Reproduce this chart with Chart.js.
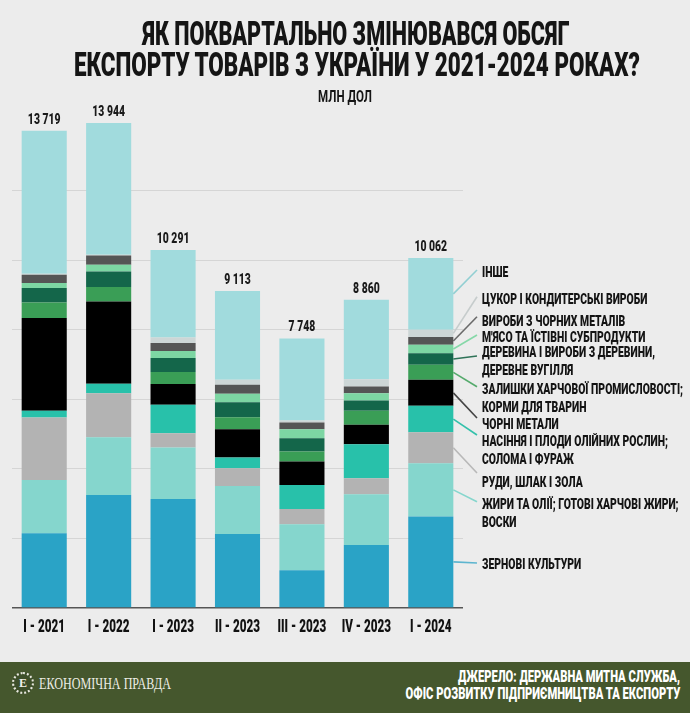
<!DOCTYPE html>
<html lang="uk">
<head>
<meta charset="utf-8">
<script src="https://cdn.jsdelivr.net/npm/chart.js@4.4.1/dist/chart.umd.min.js"></script>
<style>
  html, body { margin:0; padding:0; }
  body { width:690px; height:713px; background:#ececec; position:relative; overflow:hidden; font-family: Roboto, "DejaVu Sans", sans-serif; }
  #c { position:absolute; left:0; top:0; }
  .fit { position:absolute; white-space:nowrap; line-height:1; font-weight:900; color:#151515; }
  #footer { position:absolute; left:0; top:662px; width:690px; height:51px; background:#45572d; }
  .logo-circle { position:absolute; left:12px; top:672px; width:18px; height:18px; border:2px dotted #e6e6dc; border-radius:50%; background:#3d4f29; color:#f0f0e8; font:700 12px "Liberation Serif", serif; text-align:center; line-height:18px; }
</style>
</head>
<body>
<canvas id="c" width="690" height="713"></canvas>

<div class="fit" data-cx="356" data-w="427" style="top:17.2px;font-size:33px;">ЯК ПОКВАРТАЛЬНО ЗМІНЮВАВСЯ ОБСЯГ</div>
<div class="fit" data-cx="357" data-w="566" style="top:48.2px;font-size:33px;">ЕКСПОРТУ ТОВАРІВ З УКРАЇНИ У 2021-2024 РОКАХ?</div>
<div class="fit" data-cx="345" data-w="54" style="top:89.4px;font-size:16.5px;font-weight:700;">МЛН ДОЛ</div>

<div id="footer"></div>
<div class="logo-circle">Е</div>
<div class="fit" data-cx="105" data-w="132" style="top:675.5px;font-size:16.5px;font-family:'Liberation Serif',serif;font-weight:400;color:#ecece4;">ЕКОНОМІЧНА ПРАВДА</div>
<div class="fit" data-cx="569" data-w="222" style="top:667.7px;font-size:17px;color:#ffffff;">ДЖЕРЕЛО: ДЕРЖАВНА МИТНА СЛУЖБА,</div>
<div class="fit" data-cx="542.5" data-w="275" style="top:684.7px;font-size:17px;color:#ffffff;">ОФІС РОЗВИТКУ ПІДПРИЄМНИЦТВА ТА ЕКСПОРТУ</div>

<script>
// ---------- DATA ----------
const categories = ['I - 2021', 'I - 2022', 'I - 2023', 'II - 2023', 'III - 2023', 'IV - 2023', 'I - 2024'];
const totals = [13719, 13944, 10291, 9113, 7748, 8860, 10062];

const grain        = [2150, 3251, 3136, 2129, 1085, 1812, 2627];
const fats         = [1533, 1660, 1476, 1381, 1323, 1459, 1536];
const ores         = [1793, 1266,  414,  509,  440,  460,  886];
const oilseeds     = [ 192,  267,  814,  305,  691,  978,  762];
const ferrous      = [2667, 2368,  596,  817,  670,  556,  748];
const foodResidues = [ 449,  414,  345,  345,  288,  408,  432];
const wood         = [ 414,  449,  403,  426,  385,  291,  336];
const meat         = [ 144,  193,  204,  245,  259,  213,  239];
const ironProducts = [ 239,  267,  233,  258,  190,  190,  222];
const sugar        = [  30,   20,  155,  144,   57,  212,  210];
const other        = [4108, 3789, 2515, 2554, 2360, 2281, 2064];

const seriesNames = [
  ['ЗЕРНОВІ КУЛЬТУРИ'],
  ['ЖИРИ ТА ОЛІЇ; ГОТОВІ ХАРЧОВІ ЖИРИ;', 'ВОСКИ'],
  ['РУДИ, ШЛАК І ЗОЛА'],
  ['НАСІННЯ І ПЛОДИ ОЛІЙНИХ РОСЛИН;', 'СОЛОМА І ФУРАЖ'],
  ['ЧОРНІ МЕТАЛИ'],
  ['ЗАЛИШКИ ХАРЧОВОЇ ПРОМИСЛОВОСТІ;', 'КОРМИ ДЛЯ ТВАРИН'],
  ['ДЕРЕВИНА І ВИРОБИ З ДЕРЕВИНИ,', 'ДЕРЕВНЕ ВУГІЛЛЯ'],
  ["М'ЯСО ТА ЇСТІВНІ СУБПРОДУКТИ"],
  ['ВИРОБИ З ЧОРНИХ МЕТАЛІВ'],
  ['ЦУКОР І КОНДИТЕРСЬКІ ВИРОБИ'],
  ['ІНШЕ']
];
const seriesValues = [grain, fats, ores, oilseeds, ferrous, foodResidues, wood, meat, ironProducts, sugar, other];

// ---------- STYLE / LAYOUT ----------
const seriesColors = ['#2aa3c6', '#85d6cd', '#b3b3b3', '#28c1aa', '#000000', '#3a9e56', '#14664a', '#7dd6a3', '#555555', '#cdd6d6', '#a1dbdd'];
const leaderColors = ['#5db5cf', '#85d6cd', '#b8b8b8', '#34c1ab', '#444444', '#55aa6c', '#2f7358', '#86d8a8', '#6a6a6a', '#c6cccc', '#92cfd2'];
const labelY  = [564, 504, 482, 441, 424, 389, 352, 337, 320.5, 298.7, 272];
const leaderEndY = [563, 501.7, 473, 435, 418, 386.7, 356, 335, 316.7, 296.7, 270];
const LABEL_X = 482, LEADER_END_X = 477, LINE_GAP = 17.3;

function fmt(n) { return String(n).replace(/\B(?=(\d{3})+(?!\d))/g, ' '); }
function fillScaled(ctx, text, x, y, s, align) {
  ctx.save(); ctx.translate(x, y); ctx.scale(s, 1); ctx.textAlign = align; ctx.fillText(text, 0, 0); ctx.restore();
}

// fit HTML texts
document.querySelectorAll('.fit').forEach(el => {
  const w = el.offsetWidth;
  const s = (+el.dataset.w) / w;
  el.style.left = el.dataset.cx + 'px';
  el.style.transform = 'translateX(-50%) scaleX(' + s + ')';
});

const overlay = {
  id: 'overlay',
  afterDatasetsDraw(chart) {
    const ctx = chart.ctx;
    const n = chart.data.datasets.length;
    const lastMeta = chart.getDatasetMeta(n - 1);
    ctx.save();
    ctx.textBaseline = 'alphabetic';
    // totals
    ctx.font = '900 14px Roboto, sans-serif';
    ctx.fillStyle = '#1a1a1a';
    const ts = 32.7 / ctx.measureText('13 719').width;
    lastMeta.data.forEach((bar, i) => fillScaled(ctx, fmt(totals[i]), bar.x, bar.y - 7, ts, 'center'));
    // category labels
    ctx.font = '900 18px Roboto, sans-serif';
    ctx.fillStyle = '#111';
    const xs = 41.7 / ctx.measureText('I - 2021').width;
    lastMeta.data.forEach((bar, i) => fillScaled(ctx, categories[i], bar.x, 631.7, xs, 'center'));
    // leader lines
    const lastIdx = lastMeta.data.length - 1;
    for (let d = 0; d < n; d++) {
      const el = chart.getDatasetMeta(d).data[lastIdx];
      const right = el.x + el.width / 2;
      const midY = (el.y + el.base) / 2;
      ctx.strokeStyle = leaderColors[d];
      ctx.lineWidth = 1.6;
      ctx.beginPath();
      ctx.moveTo(right, midY);
      ctx.lineTo(LEADER_END_X, leaderEndY[d]);
      ctx.stroke();
    }
    // legend labels
    ctx.font = '900 15px Roboto, sans-serif';
    ctx.fillStyle = '#141414';
    const ls = 201 / ctx.measureText('ЗАЛИШКИ ХАРЧОВОЇ ПРОМИСЛОВОСТІ;').width;
    const capHalf = 0.711 * 15 / 2;
    for (let d = 0; d < n; d++) {
      seriesNames[d].forEach((line, k) => {
        fillScaled(ctx, line, LABEL_X, labelY[d] + k * LINE_GAP + capHalf, ls, 'left');
      });
    }
    ctx.restore();
  }
};

new Chart(document.getElementById('c'), {
  type: 'bar',
  data: {
    labels: categories,
    datasets: seriesValues.map((vals, i) => ({
      label: seriesNames[i].join(' '),
      data: vals,
      backgroundColor: seriesColors[i],
      borderWidth: 0,
      barPercentage: 0.7,
      categoryPercentage: 1.0
    }))
  },
  options: {
    responsive: false,
    animation: false,
    devicePixelRatio: 1,
    layout: { padding: { left: 12, right: 227, top: 121, bottom: 105 } },
    plugins: { legend: { display: false }, tooltip: { enabled: false } },
    scales: {
      x: { stacked: true, display: false },
      y: {
        stacked: true, min: 0, max: 14000,
        ticks: { display: false, stepSize: 2000 },
        border: { display: false },
        grid: {
          drawTicks: false,
          color: c => c.tick.value === 0 ? '#555555' : (c.tick.value >= 14000 ? 'rgba(0,0,0,0)' : '#d5d5d5'),
          lineWidth: c => c.tick.value === 0 ? 1.6 : 1
        }
      }
    }
  },
  plugins: [overlay]
});
</script>
</body>
</html>
